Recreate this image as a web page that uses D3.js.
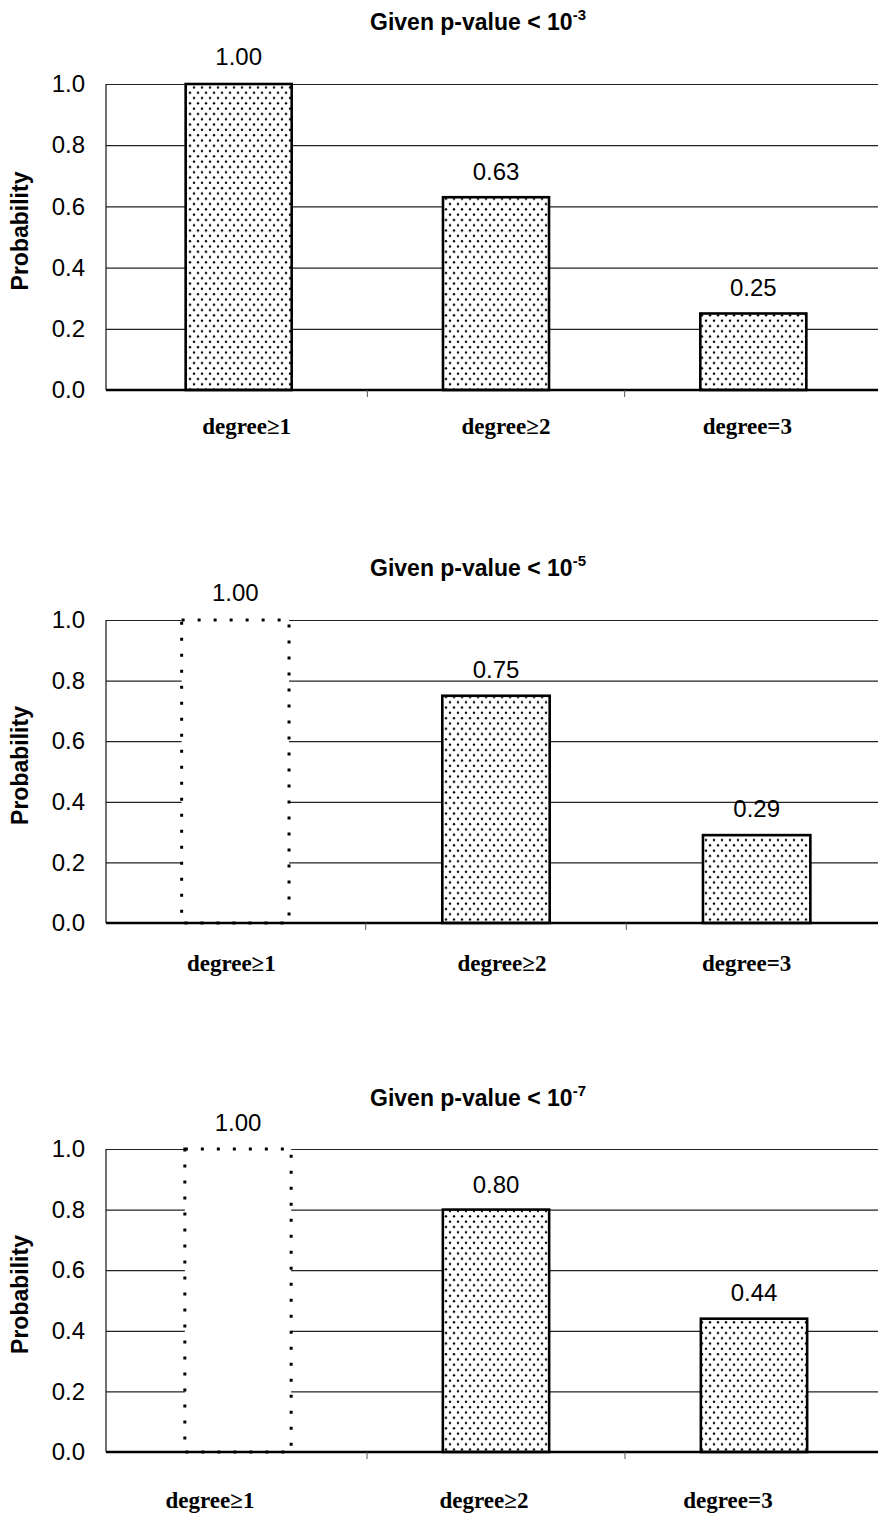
<!DOCTYPE html>
<html>
<head>
<meta charset="utf-8">
<script src="https://cdn.jsdelivr.net/npm/d3@7"></script>
<style>
  html, body { margin: 0; padding: 0; background: #fff; }
  svg { display: block; }
</style>
</head>
<body>
<div id="chart"></div>
<script>
// Categories shared by all three panels
const categories = ["degree≥1", "degree≥2", "degree=3"];

// Probability for each category, one array per p-value threshold
const probP3 = [1.00, 0.63, 0.25];
const probP5 = [1.00, 0.75, 0.29];
const probP7 = [1.00, 0.80, 0.44];

// Threshold exponents shown in the panel titles
const exponents = ["-3", "-5", "-7"];

// Y axis tick values
const yTicks = [0.0, 0.2, 0.4, 0.6, 0.8, 1.0];

// Panel layout and styling (positions in px)
const W = 878, H = 1516;
const axisX = 106;
const panels = [
  { values: probP3, exp: exponents[0], top: 84,   bottom: 390,  x0: 110, x1: 882,
    hollow: [], titleY: 30, labelDx: [8, 10, -6], labelDy: 44, lift: [28, 26, 26] },
  { values: probP5, exp: exponents[1], top: 620,  bottom: 923,  x0: 105, x1: 887,
    hollow: [0], titleY: 576, labelDx: [-4, 6, -10], labelDy: 48, lift: [28, 26, 27] },
  { values: probP7, exp: exponents[2], top: 1149, bottom: 1452, x0: 109, x1: 883,
    hollow: [0], titleY: 1106, labelDx: [-28, -12, -26], labelDy: 56, lift: [27, 25, 26] }
];

const sans = "'Liberation Sans', Arial, sans-serif";
const serif = "'Liberation Serif', 'Times New Roman', serif";

const svg = d3.select("#chart").append("svg")
  .attr("width", W).attr("height", H)
  .attr("viewBox", `0 0 ${W} ${H}`);

svg.append("rect").attr("width", W).attr("height", H).attr("fill", "#fff");

// Stippled fill used by the solid bars
const defs = svg.append("defs");
const pat = defs.append("pattern")
  .attr("id", "stipple")
  .attr("patternUnits", "userSpaceOnUse")
  .attr("width", 8).attr("height", 10.6);
pat.append("rect").attr("width", 8).attr("height", 10.6).attr("fill", "#fff");
pat.append("circle").attr("cx", 2).attr("cy", 2.6).attr("r", 1.2).attr("fill", "#000");
pat.append("circle").attr("cx", 6).attr("cy", 7.9).attr("r", 1.2).attr("fill", "#000");

panels.forEach((p) => {
  const g = svg.append("g");

  const y = d3.scaleLinear().domain([0, 1]).range([p.bottom, p.top]);
  const x = d3.scaleBand().domain(categories)
    .range([p.x0, p.x1])
    .paddingInner(0.588)
    .paddingOuter(0.294);

  // Gridlines and tick labels
  const yAxis = d3.axisLeft(y)
    .tickValues(yTicks)
    .tickFormat(d3.format(".1f"))
    .tickSize(-(W - axisX))
    .tickPadding(21);

  const ag = g.append("g")
    .attr("transform", `translate(${axisX},0)`)
    .call(yAxis);
  ag.select(".domain").remove();
  ag.selectAll(".tick line")
    .attr("stroke", "#222")
    .attr("stroke-width", 1.2);
  ag.selectAll(".tick text")
    .attr("font-family", sans)
    .attr("font-size", 24)
    .attr("fill", "#000");

  // Vertical axis line
  g.append("line")
    .attr("x1", axisX).attr("x2", axisX)
    .attr("y1", y(1)).attr("y2", y(0))
    .attr("stroke", "#111").attr("stroke-width", 1.2);

  // Bars
  const data = categories.map((c, i) => ({ c, v: p.values[i], i }));
  g.selectAll("rect.bar")
    .data(data)
    .join("rect")
    .attr("class", "bar")
    .attr("x", d => x(d.c))
    .attr("y", d => y(d.v))
    .attr("width", x.bandwidth())
    .attr("height", d => y(0) - y(d.v))
    .attr("fill", d => p.hollow.includes(d.i) ? "#fff" : "url(#stipple)")
    .attr("stroke", "#000")
    .attr("stroke-width", d => p.hollow.includes(d.i) ? 3 : 2.6)
    .attr("stroke-dasharray", d => p.hollow.includes(d.i) ? "3,13" : null);

  // Category axis baseline
  g.append("line")
    .attr("x1", axisX).attr("x2", W)
    .attr("y1", y(0)).attr("y2", y(0))
    .attr("stroke", "#000").attr("stroke-width", 2.6);

  // Small ticks between categories
  const step = x.step();
  g.selectAll("line.ctick")
    .data(categories.slice(1))
    .join("line")
    .attr("class", "ctick")
    .attr("x1", d => x(d) - step * x.paddingInner() / 2)
    .attr("x2", d => x(d) - step * x.paddingInner() / 2)
    .attr("y1", y(0)).attr("y2", y(0) + 7)
    .attr("stroke", "#555").attr("stroke-width", 1);

  // Value labels above bars
  g.selectAll("text.val")
    .data(data)
    .join("text")
    .attr("class", "val")
    .attr("x", d => x(d.c) + x.bandwidth() / 2)
    .attr("y", d => y(d.v) - p.lift[d.i])
    .attr("dy", "0.36em")
    .attr("text-anchor", "middle")
    .attr("font-family", sans)
    .attr("font-size", 24)
    .attr("fill", "#000")
    .text(d => d3.format(".2f")(d.v));

  // Category labels
  g.selectAll("text.cat")
    .data(data)
    .join("text")
    .attr("class", "cat")
    .attr("x", d => x(d.c) + x.bandwidth() / 2 + p.labelDx[d.i])
    .attr("y", y(0) + p.labelDy)
    .attr("text-anchor", "middle")
    .attr("font-family", serif)
    .attr("font-weight", "bold")
    .attr("font-size", 23)
    .attr("fill", "#000")
    .text(d => d.c);

  // Y axis title
  g.append("text")
    .attr("transform", `translate(28,${(p.top + p.bottom) / 2 - 6}) rotate(-90)`)
    .attr("text-anchor", "middle")
    .attr("font-family", sans)
    .attr("font-weight", "bold")
    .attr("font-size", 23)
    .attr("fill", "#000")
    .text("Probability");

  // Panel title with superscript exponent
  const t = g.append("text")
    .attr("x", 478)
    .attr("y", p.titleY)
    .attr("text-anchor", "middle")
    .attr("font-family", sans)
    .attr("font-weight", "bold")
    .attr("font-size", 23)
    .attr("fill", "#000");
  t.append("tspan").text("Given p-value < 10");
  t.append("tspan")
    .attr("dy", -10)
    .attr("font-size", 15)
    .text(p.exp);
});
</script>
</body>
</html>
